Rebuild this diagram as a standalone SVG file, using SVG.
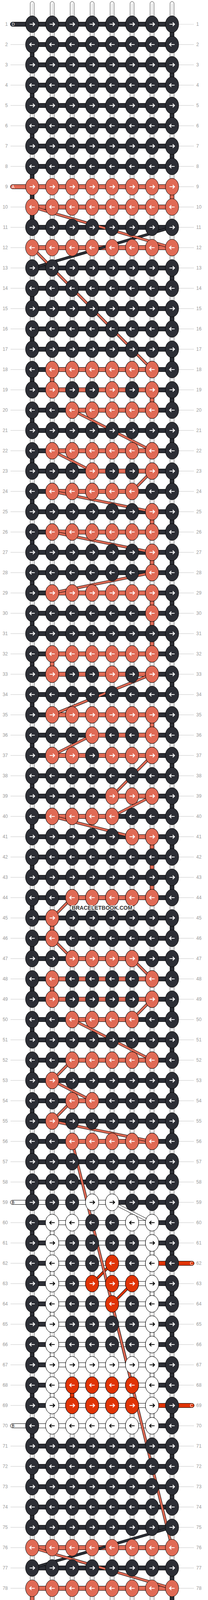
<svg xmlns="http://www.w3.org/2000/svg" width="532" height="4596" viewBox="0 0 532 4596">
<defs>
<style>
.kD{fill:#2c2e35;stroke:#000;stroke-width:1}
.kA{fill:#e06a55;stroke:#000;stroke-width:1}
.kB{fill:#fff;stroke:#000;stroke-width:1}
.kC{fill:#e03405;stroke:#000;stroke-width:1}
.aw{fill:none;stroke:#fff;stroke-width:2.2}
.ab{fill:none;stroke:#000;stroke-width:2.2}
.ps{fill:#fff;stroke:#000;stroke-width:0.8}
.pl{fill:none;stroke:#999;stroke-width:0.9}
.o{fill:none;stroke:#000;stroke-width:7}
.gD{fill:none;stroke:#2c2e35;stroke-width:5}
.gA{fill:none;stroke:#e06a55;stroke-width:5}
.gB{fill:none;stroke:#fff;stroke-width:5}
.gC{fill:none;stroke:#e03405;stroke-width:5}
.n{font-family:"Liberation Sans",Arial,sans-serif;font-size:12px;fill:#9a9a9a}
.e{text-anchor:end}
.t{font-family:"Liberation Sans",Arial,sans-serif;font-size:10.5px}
.tw{fill:#fff}
.tb{fill:#000}
.wm{font-family:"Liberation Sans",Arial,sans-serif;font-size:14px;font-weight:bold;fill:#333;stroke:#fff;stroke-width:3;paint-order:stroke;text-anchor:middle}
</style>
<pattern id="gl" patternUnits="userSpaceOnUse" x="0" y="61.5" width="532" height="52"><rect width="532" height="1" fill="#c4c4c4"/></pattern>
<pattern id="hb" patternUnits="userSpaceOnUse" x="0" y="56" width="532" height="52"><rect width="532" height="12" fill="#000"/><rect y="1" width="532" height="10" fill="#2c2e35"/></pattern>
<path id="ar" d="M-6.5 0H5.5M1.8-4.6L6.3 0L1.8 4.6"/>
<path id="al" d="M6.5 0H-5.5M-1.8-4.6L-6.3 0L-1.8 4.6"/>
<g id="dR"><ellipse class="kD" rx="17" ry="21.5"/><use href="#ar" class="aw"/></g>
<g id="dL"><ellipse class="kD" rx="17" ry="21.5"/><use href="#al" class="aw"/></g>
<g id="aR"><ellipse class="kA" rx="17" ry="21.5"/><use href="#ar" class="aw"/></g>
<g id="aL"><ellipse class="kA" rx="17" ry="21.5"/><use href="#al" class="aw"/></g>
<g id="bR"><ellipse class="kB" rx="17" ry="21.5"/><use href="#ar" class="ab"/></g>
<g id="bL"><ellipse class="kB" rx="17" ry="21.5"/><use href="#al" class="ab"/></g>
<g id="cR"><ellipse class="kC" rx="17" ry="21.5"/><use href="#ar" class="aw"/></g>
<g id="cL"><ellipse class="kC" rx="17" ry="21.5"/><use href="#al" class="aw"/></g>
<g id="RD"><use href="#dR" x="82.3"/><use href="#dR" x="133.4"/><use href="#dR" x="184.5"/><use href="#dR" x="235.6"/><use href="#dR" x="286.7"/><use href="#dR" x="337.8"/><use href="#dR" x="388.9"/><use href="#dR" x="440"/></g>
<g id="LD"><use href="#dL" x="82.3"/><use href="#dL" x="133.4"/><use href="#dL" x="184.5"/><use href="#dL" x="235.6"/><use href="#dL" x="286.7"/><use href="#dL" x="337.8"/><use href="#dL" x="388.9"/><use href="#dL" x="440"/></g>
<g id="RA"><use href="#aR" x="82.3"/><use href="#aR" x="133.4"/><use href="#aR" x="184.5"/><use href="#aR" x="235.6"/><use href="#aR" x="286.7"/><use href="#aR" x="337.8"/><use href="#aR" x="388.9"/><use href="#aR" x="440"/></g>
<g id="LA"><use href="#aL" x="82.3"/><use href="#aL" x="133.4"/><use href="#aL" x="184.5"/><use href="#aL" x="235.6"/><use href="#aL" x="286.7"/><use href="#aL" x="337.8"/><use href="#aL" x="388.9"/><use href="#aL" x="440"/></g>
<g id="aL27"><use href="#aL" x="133.4"/><use href="#aL" x="184.5"/><use href="#aL" x="235.6"/><use href="#aL" x="286.7"/><use href="#aL" x="337.8"/><use href="#aL" x="388.9"/></g>
<g id="aR27"><use href="#aR" x="133.4"/><use href="#aR" x="184.5"/><use href="#aR" x="235.6"/><use href="#aR" x="286.7"/><use href="#aR" x="337.8"/><use href="#aR" x="388.9"/></g>
<g id="aL37"><use href="#aL" x="184.5"/><use href="#aL" x="235.6"/><use href="#aL" x="286.7"/><use href="#aL" x="337.8"/><use href="#aL" x="388.9"/></g>
<path id="pD" d="M440 582L82.3 686M440 3910L82.3 4014"/>
<path id="pB" d="M286.7 3078L388.9 3130"/>
<path id="pC" d="M286.7 3234L235.6 3286M337.8 3286L286.7 3338M286.7 3338L337.8 3546"/>
<path id="pA" d="M82.3 530L440 634M82.3 634L388.9 946M184.5 1050L388.9 1154M133.4 1154L235.6 1206M388.9 1206L337.8 1258M133.4 1258L388.9 1310M133.4 1362L388.9 1414M388.9 1466L133.4 1518M388.9 1726L133.4 1830M235.6 1882L133.4 1934M388.9 1934L286.7 2038M388.9 2038L286.7 2090M133.4 2090L337.8 2142M184.5 2298L133.4 2350M133.4 2402L184.5 2454M337.8 2454L388.9 2506M388.9 2558L337.8 2610M184.5 2610L388.9 2714M184.5 2714L133.4 2766M133.4 2766L235.6 2818M184.5 2818L133.4 2870M133.4 2870L388.9 2922M184.5 2922L440 3962M82.3 3962L440 4066"/>
</defs>
<rect width="532" height="4596" fill="#fff"/>
<g id="guides">
<rect x="27" y="61.5" width="38" height="4474" fill="url(#gl)"/>
<rect x="457" y="61.5" width="39" height="4474" fill="url(#gl)"/>
</g>
<g id="strings">
<rect class="ps" x="77.3" y="4" width="10" height="4587" rx="5"/>
<rect class="ps" x="128.4" y="4" width="10" height="4587" rx="5"/>
<rect class="ps" x="179.5" y="4" width="10" height="4587" rx="5"/>
<rect class="ps" x="230.6" y="4" width="10" height="4587" rx="5"/>
<rect class="ps" x="281.7" y="4" width="10" height="4587" rx="5"/>
<rect class="ps" x="332.8" y="4" width="10" height="4587" rx="5"/>
<rect class="ps" x="383.9" y="4" width="10" height="4587" rx="5"/>
<rect class="ps" x="435" y="4" width="10" height="4587" rx="5"/>
<path class="pl" d="M82.3 9V4586M133.4 9V4586M184.5 9V4586M235.6 9V4586M286.7 9V4586M337.8 9V4586M388.9 9V4586M440 9V4586"/>
</g>
<g id="connectors">
<path class="kD" d="M435 72h10v32h-10zM435 176h10v32h-10zM435 280h10v32h-10zM435 384h10v32h-10zM435 696h10v32h-10zM435 800h10v32h-10zM435 904h10v32h-10zM435 1008h10v32h-10zM435 1112h10v32h-10zM435 1216h10v32h-10zM435 1320h10v32h-10zM435 1424h10v32h-10zM435 1528h10v32h-10zM435 1632h10v32h-10zM435 1736h10v32h-10zM435 1840h10v32h-10zM435 1944h10v32h-10zM435 2048h10v32h-10zM435 2152h10v32h-10zM435 2256h10v32h-10zM435 2360h10v32h-10zM435 2464h10v32h-10zM435 2568h10v32h-10zM435 2672h10v32h-10zM435 2776h10v32h-10zM435 2880h10v32h-10zM435 2984h10v32h-10zM435 3088h10v32h-10zM435 3192h10v32h-10zM435 3296h10v32h-10zM435 3400h10v32h-10zM435 3504h10v32h-10zM435 3608h10v32h-10zM435 3712h10v32h-10zM435 3816h10v32h-10zM435 4024h10v136h-10zM435 4232h10v32h-10zM435 4336h10v32h-10zM435 4440h10v32h-10zM77.3 124h10v32h-10zM77.3 228h10v32h-10zM77.3 332h10v32h-10zM77.3 436h10v136h-10zM77.3 748h10v32h-10zM77.3 852h10v32h-10zM77.3 956h10v32h-10zM77.3 1060h10v32h-10zM77.3 1164h10v32h-10zM77.3 1268h10v32h-10zM77.3 1372h10v32h-10zM77.3 1476h10v32h-10zM77.3 1580h10v32h-10zM77.3 1684h10v32h-10zM77.3 1788h10v32h-10zM77.3 1892h10v32h-10zM77.3 1996h10v32h-10zM77.3 2100h10v32h-10zM77.3 2204h10v32h-10zM77.3 2308h10v32h-10zM77.3 2412h10v32h-10zM77.3 2516h10v32h-10zM77.3 2620h10v32h-10zM77.3 2724h10v32h-10zM77.3 2828h10v32h-10zM77.3 2932h10v32h-10zM77.3 3036h10v32h-10zM77.3 3140h10v32h-10zM77.3 3244h10v32h-10zM77.3 3348h10v32h-10zM77.3 3452h10v32h-10zM77.3 3556h10v32h-10zM77.3 3660h10v32h-10zM77.3 3764h10v32h-10zM77.3 3868h10v32h-10zM77.3 4180h10v32h-10zM77.3 4284h10v32h-10zM77.3 4388h10v32h-10zM77.3 4492h10v32h-10z"/>
<path class="kA" d="M435 488h10v32h-10zM128.4 956h10v32h-10zM383.9 1008h10v32h-10zM383.9 1320h10v32h-10zM383.9 1424h10v32h-10zM383.9 1528h10v136h-10zM128.4 1684h10v32h-10zM383.9 1840h10v32h-10zM383.9 2152h10v136h-10zM128.4 2360h10v32h-10zM128.4 2516h10v32h-10zM77.3 4076h10v32h-10z"/>
<path class="kB" d="M128.4 3140h10v32h-10zM128.4 3244h10v32h-10zM128.4 3348h10v32h-10zM128.4 3452h10v32h-10zM128.4 3556h10v32h-10zM383.9 3192h10v32h-10zM383.9 3296h10v32h-10zM383.9 3400h10v32h-10zM383.9 3504h10v32h-10zM383.9 3608h10v32h-10z"/>
<path class="kC" d="M179.5 3556h10v32h-10z"/>
<rect x="82.3" y="56" width="357.7" height="4484" fill="url(#hb)"/>
<rect class="kD" x="26.5" y="56.5" width="60" height="11" rx="5.5"/>
<rect class="kD" x="436" y="4528.5" width="60.5" height="11" rx="5.5"/>
<rect class="kA" x="26.5" y="472.5" width="413.5" height="11" rx="5.5"/>
<rect class="kA" x="82.3" y="524.5" width="357.7" height="11"/>
<rect class="kA" x="82.3" y="628.5" width="357.7" height="11"/>
<rect class="kA" x="133.4" y="940.5" width="255.5" height="11"/>
<rect class="kA" x="133.4" y="992.5" width="255.5" height="11"/>
<rect class="kA" x="184.5" y="1044.5" width="204.4" height="11"/>
<rect class="kA" x="133.4" y="1148.5" width="255.5" height="11"/>
<rect class="kA" x="235.6" y="1200.5" width="153.3" height="11"/>
<rect class="kA" x="133.4" y="1252.5" width="204.4" height="11"/>
<rect class="kA" x="133.4" y="1356.5" width="255.5" height="11"/>
<rect class="kA" x="133.4" y="1512.5" width="255.5" height="11"/>
<rect class="kA" x="133.4" y="1668.5" width="255.5" height="11"/>
<rect class="kA" x="133.4" y="1720.5" width="255.5" height="11"/>
<rect class="kA" x="133.4" y="1824.5" width="255.5" height="11"/>
<rect class="kA" x="235.6" y="1876.5" width="153.3" height="11"/>
<rect class="kA" x="133.4" y="1928.5" width="255.5" height="11"/>
<rect class="kA" x="286.7" y="2032.5" width="102.2" height="11"/>
<rect class="kA" x="133.4" y="2084.5" width="153.3" height="11"/>
<rect class="kA" x="337.8" y="2136.5" width="51.1" height="11"/>
<rect class="kA" x="184.5" y="2292.5" width="204.4" height="11"/>
<rect class="kA" x="184.5" y="2448.5" width="153.3" height="11"/>
<rect class="kA" x="133.4" y="2500.5" width="255.5" height="11"/>
<rect class="kA" x="133.4" y="2552.5" width="255.5" height="11"/>
<rect class="kA" x="184.5" y="2604.5" width="153.3" height="11"/>
<rect class="kA" x="184.5" y="2708.5" width="204.4" height="11"/>
<rect class="kA" x="184.5" y="2812.5" width="51.1" height="11"/>
<rect class="kA" x="184.5" y="2916.5" width="204.4" height="11"/>
<rect class="kA" x="82.3" y="3956.5" width="357.7" height="11"/>
<rect class="kA" x="82.3" y="4060.5" width="357.7" height="11"/>
<rect class="kA" x="82.3" y="4112.5" width="414.2" height="11" rx="5.5"/>
<rect class="kB" x="26.5" y="3072.5" width="260.2" height="11" rx="5.5"/>
<rect class="kB" x="133.4" y="3124.5" width="255.5" height="11"/>
<rect class="kB" x="133.4" y="3176.5" width="255.5" height="11"/>
<rect class="kB" x="133.4" y="3228.5" width="255.5" height="11"/>
<rect class="kB" x="133.4" y="3280.5" width="255.5" height="11"/>
<rect class="kB" x="133.4" y="3332.5" width="255.5" height="11"/>
<rect class="kB" x="133.4" y="3384.5" width="255.5" height="11"/>
<rect class="kB" x="133.4" y="3436.5" width="255.5" height="11"/>
<rect class="kB" x="133.4" y="3488.5" width="255.5" height="11"/>
<rect class="kB" x="133.4" y="3540.5" width="255.5" height="11"/>
<rect class="kB" x="133.4" y="3592.5" width="255.5" height="11"/>
<rect class="kB" x="26.5" y="3644.5" width="362.4" height="11" rx="5.5"/>
<rect class="kC" x="388.9" y="3228.5" width="107.6" height="11" rx="5.5"/>
<rect class="kC" x="388.9" y="3592.5" width="107.6" height="11" rx="5.5"/>
<use href="#pD" class="o"/><use href="#pD" class="gD"/>
<use href="#pB" class="o"/><use href="#pB" class="gB"/>
<use href="#pC" class="o"/><use href="#pC" class="gC"/>
<use href="#pA" class="o"/><use href="#pA" class="gA"/>
</g>
<g id="knots">
<use id="row1" href="#RD" y="62"/>
<use id="row2" href="#LD" y="114"/>
<use id="row3" href="#RD" y="166"/>
<use id="row4" href="#LD" y="218"/>
<use id="row5" href="#RD" y="270"/>
<use id="row6" href="#LD" y="322"/>
<use id="row7" href="#RD" y="374"/>
<use id="row8" href="#LD" y="426"/>
<use id="row9" href="#RA" y="478"/>
<use id="row10" href="#LA" y="530"/>
<use id="row11" href="#RD" y="582"/>
<use id="row12" href="#LA" y="634"/>
<use id="row13" href="#RD" y="686"/>
<use id="row14" href="#LD" y="738"/>
<use id="row15" href="#RD" y="790"/>
<use id="row16" href="#LD" y="842"/>
<use id="row17" href="#RD" y="894"/>
<g id="row18" transform="translate(0 946)"><use href="#LD"/><use href="#aL27"/></g>
<g id="row19" transform="translate(0 998)"><use href="#RD"/><use href="#aR" x="133.4"/><use href="#aR" x="286.7"/><use href="#aR" x="388.9"/></g>
<g id="row20" transform="translate(0 1050)"><use href="#LD"/><use href="#aL37"/></g>
<use id="row21" href="#RD" y="1102"/>
<g id="row22" transform="translate(0 1154)"><use href="#LD"/><use href="#aL27"/></g>
<g id="row23" transform="translate(0 1206)"><use href="#RD"/><use href="#aR" x="235.6"/><use href="#aR" x="388.9"/></g>
<g id="row24" transform="translate(0 1258)"><use href="#LD"/><use href="#aL" x="133.4"/><use href="#aL" x="184.5"/><use href="#aL" x="235.6"/><use href="#aL" x="286.7"/><use href="#aL" x="337.8"/></g>
<g id="row25" transform="translate(0 1310)"><use href="#RD"/><use href="#aR" x="388.9"/></g>
<g id="row26" transform="translate(0 1362)"><use href="#LD"/><use href="#aL27"/></g>
<g id="row27" transform="translate(0 1414)"><use href="#RD"/><use href="#aR" x="388.9"/></g>
<g id="row28" transform="translate(0 1466)"><use href="#LD"/><use href="#aL" x="388.9"/></g>
<g id="row29" transform="translate(0 1518)"><use href="#RD"/><use href="#aR27"/></g>
<g id="row30" transform="translate(0 1570)"><use href="#LD"/><use href="#aL" x="388.9"/></g>
<use id="row31" href="#RD" y="1622"/>
<g id="row32" transform="translate(0 1674)"><use href="#LD"/><use href="#aL27"/></g>
<g id="row33" transform="translate(0 1726)"><use href="#RD"/><use href="#aR" x="133.4"/><use href="#aR" x="286.7"/><use href="#aR" x="388.9"/></g>
<use id="row34" href="#LD" y="1778"/>
<g id="row35" transform="translate(0 1830)"><use href="#RD"/><use href="#aR27"/></g>
<g id="row36" transform="translate(0 1882)"><use href="#LD"/><use href="#aL" x="235.6"/><use href="#aL" x="388.9"/></g>
<g id="row37" transform="translate(0 1934)"><use href="#RD"/><use href="#aR" x="133.4"/><use href="#aR" x="184.5"/><use href="#aR" x="286.7"/><use href="#aR" x="337.8"/><use href="#aR" x="388.9"/></g>
<use id="row38" href="#LD" y="1986"/>
<g id="row39" transform="translate(0 2038)"><use href="#RD"/><use href="#aR" x="286.7"/><use href="#aR" x="337.8"/><use href="#aR" x="388.9"/></g>
<g id="row40" transform="translate(0 2090)"><use href="#LD"/><use href="#aL" x="133.4"/><use href="#aL" x="184.5"/><use href="#aL" x="235.6"/><use href="#aL" x="286.7"/></g>
<g id="row41" transform="translate(0 2142)"><use href="#RD"/><use href="#aR" x="337.8"/><use href="#aR" x="388.9"/></g>
<use id="row42" href="#LD" y="2194"/>
<use id="row43" href="#RD" y="2246"/>
<g id="row44" transform="translate(0 2298)"><use href="#LD"/><use href="#aL37"/></g>
<g id="row45" transform="translate(0 2350)"><use href="#RD"/><use href="#aR" x="133.4"/></g>
<g id="row46" transform="translate(0 2402)"><use href="#LD"/><use href="#aL" x="133.4"/></g>
<g id="row47" transform="translate(0 2454)"><use href="#RD"/><use href="#aR" x="184.5"/><use href="#aR" x="235.6"/><use href="#aR" x="286.7"/><use href="#aR" x="337.8"/></g>
<g id="row48" transform="translate(0 2506)"><use href="#LD"/><use href="#aL" x="133.4"/><use href="#aL" x="388.9"/></g>
<g id="row49" transform="translate(0 2558)"><use href="#RD"/><use href="#aR" x="133.4"/><use href="#aR" x="388.9"/></g>
<g id="row50" transform="translate(0 2610)"><use href="#LD"/><use href="#aL" x="184.5"/><use href="#aL" x="235.6"/><use href="#aL" x="286.7"/><use href="#aL" x="337.8"/></g>
<use id="row51" href="#RD" y="2662"/>
<g id="row52" transform="translate(0 2714)"><use href="#LD"/><use href="#aL37"/></g>
<g id="row53" transform="translate(0 2766)"><use href="#RD"/><use href="#aR" x="133.4"/></g>
<g id="row54" transform="translate(0 2818)"><use href="#LD"/><use href="#aL" x="184.5"/><use href="#aL" x="235.6"/></g>
<g id="row55" transform="translate(0 2870)"><use href="#RD"/><use href="#aR" x="133.4"/></g>
<g id="row56" transform="translate(0 2922)"><use href="#LD"/><use href="#aL37"/></g>
<use id="row57" href="#RD" y="2974"/>
<use id="row58" href="#LD" y="3026"/>
<g id="row59" transform="translate(0 3078)"><use href="#RD"/><use href="#bR" x="235.6"/><use href="#bR" x="286.7"/></g>
<g id="row60" transform="translate(0 3130)"><use href="#LD"/><use href="#bL" x="133.4"/><use href="#bL" x="184.5"/><use href="#bL" x="337.8"/><use href="#bL" x="388.9"/></g>
<g id="row61" transform="translate(0 3182)"><use href="#RD"/><use href="#bR" x="133.4"/><use href="#bR" x="388.9"/></g>
<g id="row62" transform="translate(0 3234)"><use href="#LD"/><use href="#bL" x="133.4"/><use href="#cL" x="286.7"/><use href="#bL" x="388.9"/></g>
<g id="row63" transform="translate(0 3286)"><use href="#RD"/><use href="#bR" x="133.4"/><use href="#cR" x="235.6"/><use href="#cR" x="286.7"/><use href="#cR" x="337.8"/><use href="#bR" x="388.9"/></g>
<g id="row64" transform="translate(0 3338)"><use href="#LD"/><use href="#bL" x="133.4"/><use href="#cL" x="286.7"/><use href="#bL" x="388.9"/></g>
<g id="row65" transform="translate(0 3390)"><use href="#RD"/><use href="#bR" x="133.4"/><use href="#bR" x="388.9"/></g>
<g id="row66" transform="translate(0 3442)"><use href="#LD"/><use href="#bL" x="133.4"/><use href="#bL" x="388.9"/></g>
<g id="row67" transform="translate(0 3494)"><use href="#RD"/><use href="#bR" x="133.4"/><use href="#bR" x="184.5"/><use href="#bR" x="235.6"/><use href="#bR" x="286.7"/><use href="#bR" x="337.8"/><use href="#bR" x="388.9"/></g>
<g id="row68" transform="translate(0 3546)"><use href="#LD"/><use href="#bL" x="133.4"/><use href="#cL" x="184.5"/><use href="#cL" x="235.6"/><use href="#cL" x="286.7"/><use href="#cL" x="337.8"/><use href="#bL" x="388.9"/></g>
<g id="row69" transform="translate(0 3598)"><use href="#RD"/><use href="#bR" x="133.4"/><use href="#cR" x="184.5"/><use href="#cR" x="235.6"/><use href="#cR" x="286.7"/><use href="#cR" x="337.8"/><use href="#bR" x="388.9"/></g>
<g id="row70" transform="translate(0 3650)"><use href="#LD"/><use href="#bL" x="133.4"/><use href="#bL" x="184.5"/><use href="#bL" x="235.6"/><use href="#bL" x="286.7"/><use href="#bL" x="337.8"/><use href="#bL" x="388.9"/></g>
<use id="row71" href="#RD" y="3702"/>
<use id="row72" href="#LD" y="3754"/>
<use id="row73" href="#RD" y="3806"/>
<use id="row74" href="#LD" y="3858"/>
<use id="row75" href="#RD" y="3910"/>
<use id="row76" href="#LA" y="3962"/>
<use id="row77" href="#RD" y="4014"/>
<use id="row78" href="#LA" y="4066"/>
<use id="row79" href="#RA" y="4118"/>
<use id="row80" href="#LD" y="4170"/>
<use id="row81" href="#RD" y="4222"/>
<use id="row82" href="#LD" y="4274"/>
<use id="row83" href="#RD" y="4326"/>
<use id="row84" href="#LD" y="4378"/>
<use id="row85" href="#RD" y="4430"/>
<use id="row86" href="#LD" y="4482"/>
<use id="row87" href="#RD" y="4534"/>
</g>
<g id="thread-labels">
<text class="t tw" x="30" y="66">D</text>
<text class="t tw" x="30" y="482">A</text>
<text class="t tb" x="30" y="3082">B</text>
<text class="t tb" x="30" y="3654">B</text>
<text class="t tw" x="486" y="3238">C</text>
<text class="t tw" x="486" y="3602">C</text>
<text class="t tw" x="486" y="4122">A</text>
<text class="t tw" x="486" y="4538">D</text>
</g>
<g id="row-numbers">
<text class="n e"><tspan x="20" y="66">1</tspan><tspan x="20" dy="52">2</tspan><tspan x="20" dy="52">3</tspan><tspan x="20" dy="52">4</tspan><tspan x="20" dy="52">5</tspan><tspan x="20" dy="52">6</tspan><tspan x="20" dy="52">7</tspan><tspan x="20" dy="52">8</tspan><tspan x="20" dy="52">9</tspan><tspan x="20" dy="52">10</tspan><tspan x="20" dy="52">11</tspan><tspan x="20" dy="52">12</tspan><tspan x="20" dy="52">13</tspan><tspan x="20" dy="52">14</tspan><tspan x="20" dy="52">15</tspan><tspan x="20" dy="52">16</tspan><tspan x="20" dy="52">17</tspan><tspan x="20" dy="52">18</tspan><tspan x="20" dy="52">19</tspan><tspan x="20" dy="52">20</tspan><tspan x="20" dy="52">21</tspan><tspan x="20" dy="52">22</tspan><tspan x="20" dy="52">23</tspan><tspan x="20" dy="52">24</tspan><tspan x="20" dy="52">25</tspan><tspan x="20" dy="52">26</tspan><tspan x="20" dy="52">27</tspan><tspan x="20" dy="52">28</tspan><tspan x="20" dy="52">29</tspan><tspan x="20" dy="52">30</tspan><tspan x="20" dy="52">31</tspan><tspan x="20" dy="52">32</tspan><tspan x="20" dy="52">33</tspan><tspan x="20" dy="52">34</tspan><tspan x="20" dy="52">35</tspan><tspan x="20" dy="52">36</tspan><tspan x="20" dy="52">37</tspan><tspan x="20" dy="52">38</tspan><tspan x="20" dy="52">39</tspan><tspan x="20" dy="52">40</tspan><tspan x="20" dy="52">41</tspan><tspan x="20" dy="52">42</tspan><tspan x="20" dy="52">43</tspan><tspan x="20" dy="52">44</tspan><tspan x="20" dy="52">45</tspan><tspan x="20" dy="52">46</tspan><tspan x="20" dy="52">47</tspan><tspan x="20" dy="52">48</tspan><tspan x="20" dy="52">49</tspan><tspan x="20" dy="52">50</tspan><tspan x="20" dy="52">51</tspan><tspan x="20" dy="52">52</tspan><tspan x="20" dy="52">53</tspan><tspan x="20" dy="52">54</tspan><tspan x="20" dy="52">55</tspan><tspan x="20" dy="52">56</tspan><tspan x="20" dy="52">57</tspan><tspan x="20" dy="52">58</tspan><tspan x="20" dy="52">59</tspan><tspan x="20" dy="52">60</tspan><tspan x="20" dy="52">61</tspan><tspan x="20" dy="52">62</tspan><tspan x="20" dy="52">63</tspan><tspan x="20" dy="52">64</tspan><tspan x="20" dy="52">65</tspan><tspan x="20" dy="52">66</tspan><tspan x="20" dy="52">67</tspan><tspan x="20" dy="52">68</tspan><tspan x="20" dy="52">69</tspan><tspan x="20" dy="52">70</tspan><tspan x="20" dy="52">71</tspan><tspan x="20" dy="52">72</tspan><tspan x="20" dy="52">73</tspan><tspan x="20" dy="52">74</tspan><tspan x="20" dy="52">75</tspan><tspan x="20" dy="52">76</tspan><tspan x="20" dy="52">77</tspan><tspan x="20" dy="52">78</tspan><tspan x="20" dy="52">79</tspan><tspan x="20" dy="52">80</tspan><tspan x="20" dy="52">81</tspan><tspan x="20" dy="52">82</tspan><tspan x="20" dy="52">83</tspan><tspan x="20" dy="52">84</tspan><tspan x="20" dy="52">85</tspan><tspan x="20" dy="52">86</tspan><tspan x="20" dy="52">87</tspan></text>
<text class="n"><tspan x="502" y="66">1</tspan><tspan x="502" dy="52">2</tspan><tspan x="502" dy="52">3</tspan><tspan x="502" dy="52">4</tspan><tspan x="502" dy="52">5</tspan><tspan x="502" dy="52">6</tspan><tspan x="502" dy="52">7</tspan><tspan x="502" dy="52">8</tspan><tspan x="502" dy="52">9</tspan><tspan x="502" dy="52">10</tspan><tspan x="502" dy="52">11</tspan><tspan x="502" dy="52">12</tspan><tspan x="502" dy="52">13</tspan><tspan x="502" dy="52">14</tspan><tspan x="502" dy="52">15</tspan><tspan x="502" dy="52">16</tspan><tspan x="502" dy="52">17</tspan><tspan x="502" dy="52">18</tspan><tspan x="502" dy="52">19</tspan><tspan x="502" dy="52">20</tspan><tspan x="502" dy="52">21</tspan><tspan x="502" dy="52">22</tspan><tspan x="502" dy="52">23</tspan><tspan x="502" dy="52">24</tspan><tspan x="502" dy="52">25</tspan><tspan x="502" dy="52">26</tspan><tspan x="502" dy="52">27</tspan><tspan x="502" dy="52">28</tspan><tspan x="502" dy="52">29</tspan><tspan x="502" dy="52">30</tspan><tspan x="502" dy="52">31</tspan><tspan x="502" dy="52">32</tspan><tspan x="502" dy="52">33</tspan><tspan x="502" dy="52">34</tspan><tspan x="502" dy="52">35</tspan><tspan x="502" dy="52">36</tspan><tspan x="502" dy="52">37</tspan><tspan x="502" dy="52">38</tspan><tspan x="502" dy="52">39</tspan><tspan x="502" dy="52">40</tspan><tspan x="502" dy="52">41</tspan><tspan x="502" dy="52">42</tspan><tspan x="502" dy="52">43</tspan><tspan x="502" dy="52">44</tspan><tspan x="502" dy="52">45</tspan><tspan x="502" dy="52">46</tspan><tspan x="502" dy="52">47</tspan><tspan x="502" dy="52">48</tspan><tspan x="502" dy="52">49</tspan><tspan x="502" dy="52">50</tspan><tspan x="502" dy="52">51</tspan><tspan x="502" dy="52">52</tspan><tspan x="502" dy="52">53</tspan><tspan x="502" dy="52">54</tspan><tspan x="502" dy="52">55</tspan><tspan x="502" dy="52">56</tspan><tspan x="502" dy="52">57</tspan><tspan x="502" dy="52">58</tspan><tspan x="502" dy="52">59</tspan><tspan x="502" dy="52">60</tspan><tspan x="502" dy="52">61</tspan><tspan x="502" dy="52">62</tspan><tspan x="502" dy="52">63</tspan><tspan x="502" dy="52">64</tspan><tspan x="502" dy="52">65</tspan><tspan x="502" dy="52">66</tspan><tspan x="502" dy="52">67</tspan><tspan x="502" dy="52">68</tspan><tspan x="502" dy="52">69</tspan><tspan x="502" dy="52">70</tspan><tspan x="502" dy="52">71</tspan><tspan x="502" dy="52">72</tspan><tspan x="502" dy="52">73</tspan><tspan x="502" dy="52">74</tspan><tspan x="502" dy="52">75</tspan><tspan x="502" dy="52">76</tspan><tspan x="502" dy="52">77</tspan><tspan x="502" dy="52">78</tspan><tspan x="502" dy="52">79</tspan><tspan x="502" dy="52">80</tspan><tspan x="502" dy="52">81</tspan><tspan x="502" dy="52">82</tspan><tspan x="502" dy="52">83</tspan><tspan x="502" dy="52">84</tspan><tspan x="502" dy="52">85</tspan><tspan x="502" dy="52">86</tspan><tspan x="502" dy="52">87</tspan></text>
</g>
<text id="watermark" class="wm" x="261" y="2329">BRACELETBOOK.COM</text>
</svg>
